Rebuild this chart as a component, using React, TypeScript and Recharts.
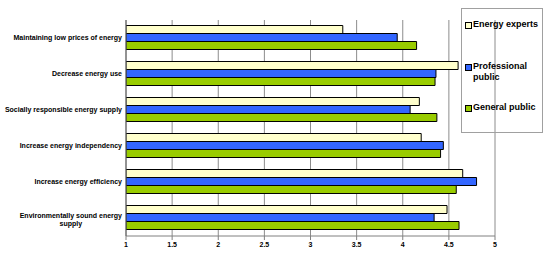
import React from 'react';
import { BarChart, Bar, XAxis, YAxis, CartesianGrid } from 'recharts';

const categories = [
  'Maintaining low prices of energy',
  'Decrease energy use',
  'Socially responsible energy supply',
  'Increase energy independency',
  'Increase energy efficiency',
  'Environmentally sound energy supply',
];
const energyExperts = [3.35, 4.6, 4.18, 4.2, 4.65, 4.48];
const professionalPublic = [3.94, 4.36, 4.08, 4.44, 4.8, 4.34];
const generalPublic = [4.15, 4.35, 4.37, 4.41, 4.58, 4.61];
const xTicks = [1, 1.5, 2, 2.5, 3, 3.5, 4, 4.5, 5];

const seriesNames = ['Energy experts', 'Professional public', 'General public'];
const seriesKeys = ['experts', 'professional', 'general'];
const seriesColors = ['#FFFFCC', '#3366FF', '#99CC00'];

const data = categories.map((name, i) => ({
  name,
  experts: energyExperts[i],
  professional: professionalPublic[i],
  general: generalPublic[i],
}));

const FONT = 'Arial, "Liberation Sans", sans-serif';

let ctx: CanvasRenderingContext2D | null = null;
function measure(s: string, font: string): number {
  if (!ctx) {
    const c = document.createElement('canvas');
    ctx = c.getContext('2d');
  }
  if (!ctx) return s.length * 3.5;
  ctx.font = font;
  return ctx.measureText(s).width;
}

function wrap(text: string, maxW: number, font: string): string[] {
  const words = text.split(' ');
  const lines: string[] = [];
  let cur = '';
  for (const w of words) {
    const t = cur ? cur + ' ' + w : w;
    if (measure(t, font) > maxW && cur) {
      lines.push(cur);
      cur = w;
    } else cur = t;
  }
  if (cur) lines.push(cur);
  return lines;
}

const CatTick = (props: any) => {
  const { x, y, payload } = props;
  const font = `bold 7px ${FONT}`;
  const lines = wrap(String(payload.value), 118, font);
  const lh = 8.4;
  if (lines.length === 1) {
    return (
      <text x={x} y={y} dy="0.35em" textAnchor="end" fontSize={7} fontWeight="bold" fontFamily={FONT} fill="#000">
        {lines[0]}
      </text>
    );
  }
  const maxW = Math.max(...lines.map((l) => measure(l, font)));
  const cx = x - maxW / 2;
  const y0 = y - ((lines.length - 1) * lh) / 2 + 1.5;
  return (
    <text x={cx} y={y0} textAnchor="middle" fontSize={7} fontWeight="bold" fontFamily={FONT} fill="#000">
      {lines.map((l, i) => (
        <tspan key={i} x={cx} dy={i === 0 ? '0.35em' : lh}>
          {l}
        </tspan>
      ))}
    </text>
  );
};

export default function App() {
  return (
    <div style={{ position: 'absolute', left: 0, top: 0, width: 550, height: 256, background: '#fff', fontFamily: FONT }}>
      <BarChart
        width={550}
        height={256}
        data={data}
        layout="vertical"
        margin={{ top: 20, right: 55, left: 0, bottom: 0 }}
        barCategoryGap={5.5}
        barGap={0}
      >
        <CartesianGrid horizontal={false} vertical stroke="#8c8c8c" strokeWidth={1} />
        <XAxis
          type="number"
          domain={[1, 5]}
          ticks={xTicks}
          height={20}
          tickSize={4}
          tickMargin={2}
          stroke="#808080"
          tick={{ fontSize: 7, fontWeight: 'bold', fill: '#000', fontFamily: FONT }}
          allowDataOverflow
        />
        <YAxis
          type="category"
          dataKey="name"
          width={126}
          tickLine={false}
          tickSize={0}
          tickMargin={4}
          axisLine={{ stroke: '#606060' }}
          tick={<CatTick />}
          interval={0}
        />
        <YAxis
          yAxisId="ticks"
          type="number"
          domain={[0, 6]}
          ticks={[0, 1, 2, 3, 4, 5, 6]}
          width={0}
          tick={false}
          axisLine={false}
          tickSize={4}
          tickLine={{ stroke: '#606060' }}
        />
        {seriesKeys.map((k, i) => (
          <Bar key={k} dataKey={k} name={seriesNames[i]} fill={seriesColors[i]} stroke="#000" strokeWidth={1} isAnimationActive={false} />
        ))}
      </BarChart>
      <div
        style={{
          position: 'absolute',
          left: 461,
          top: 8,
          width: 82,
          height: 125,
          border: '1px solid #a0a0a0',
          boxSizing: 'border-box',
        }}
      >
        {seriesNames.map((n, i) => (
          <div key={n} style={{ position: 'absolute', left: 3, top: 10 + i * 41.5, width: 78 }}>
            <div
              style={{
                position: 'absolute',
                left: 0,
                top: 3,
                width: 5,
                height: 5,
                background: seriesColors[i],
                border: '1px solid #000',
              }}
            />
            <div style={{ marginLeft: 8, width: 68, fontSize: 9, fontWeight: 'bold', lineHeight: '11px', color: '#000' }}>{n}</div>
          </div>
        ))}
      </div>
    </div>
  );
}
